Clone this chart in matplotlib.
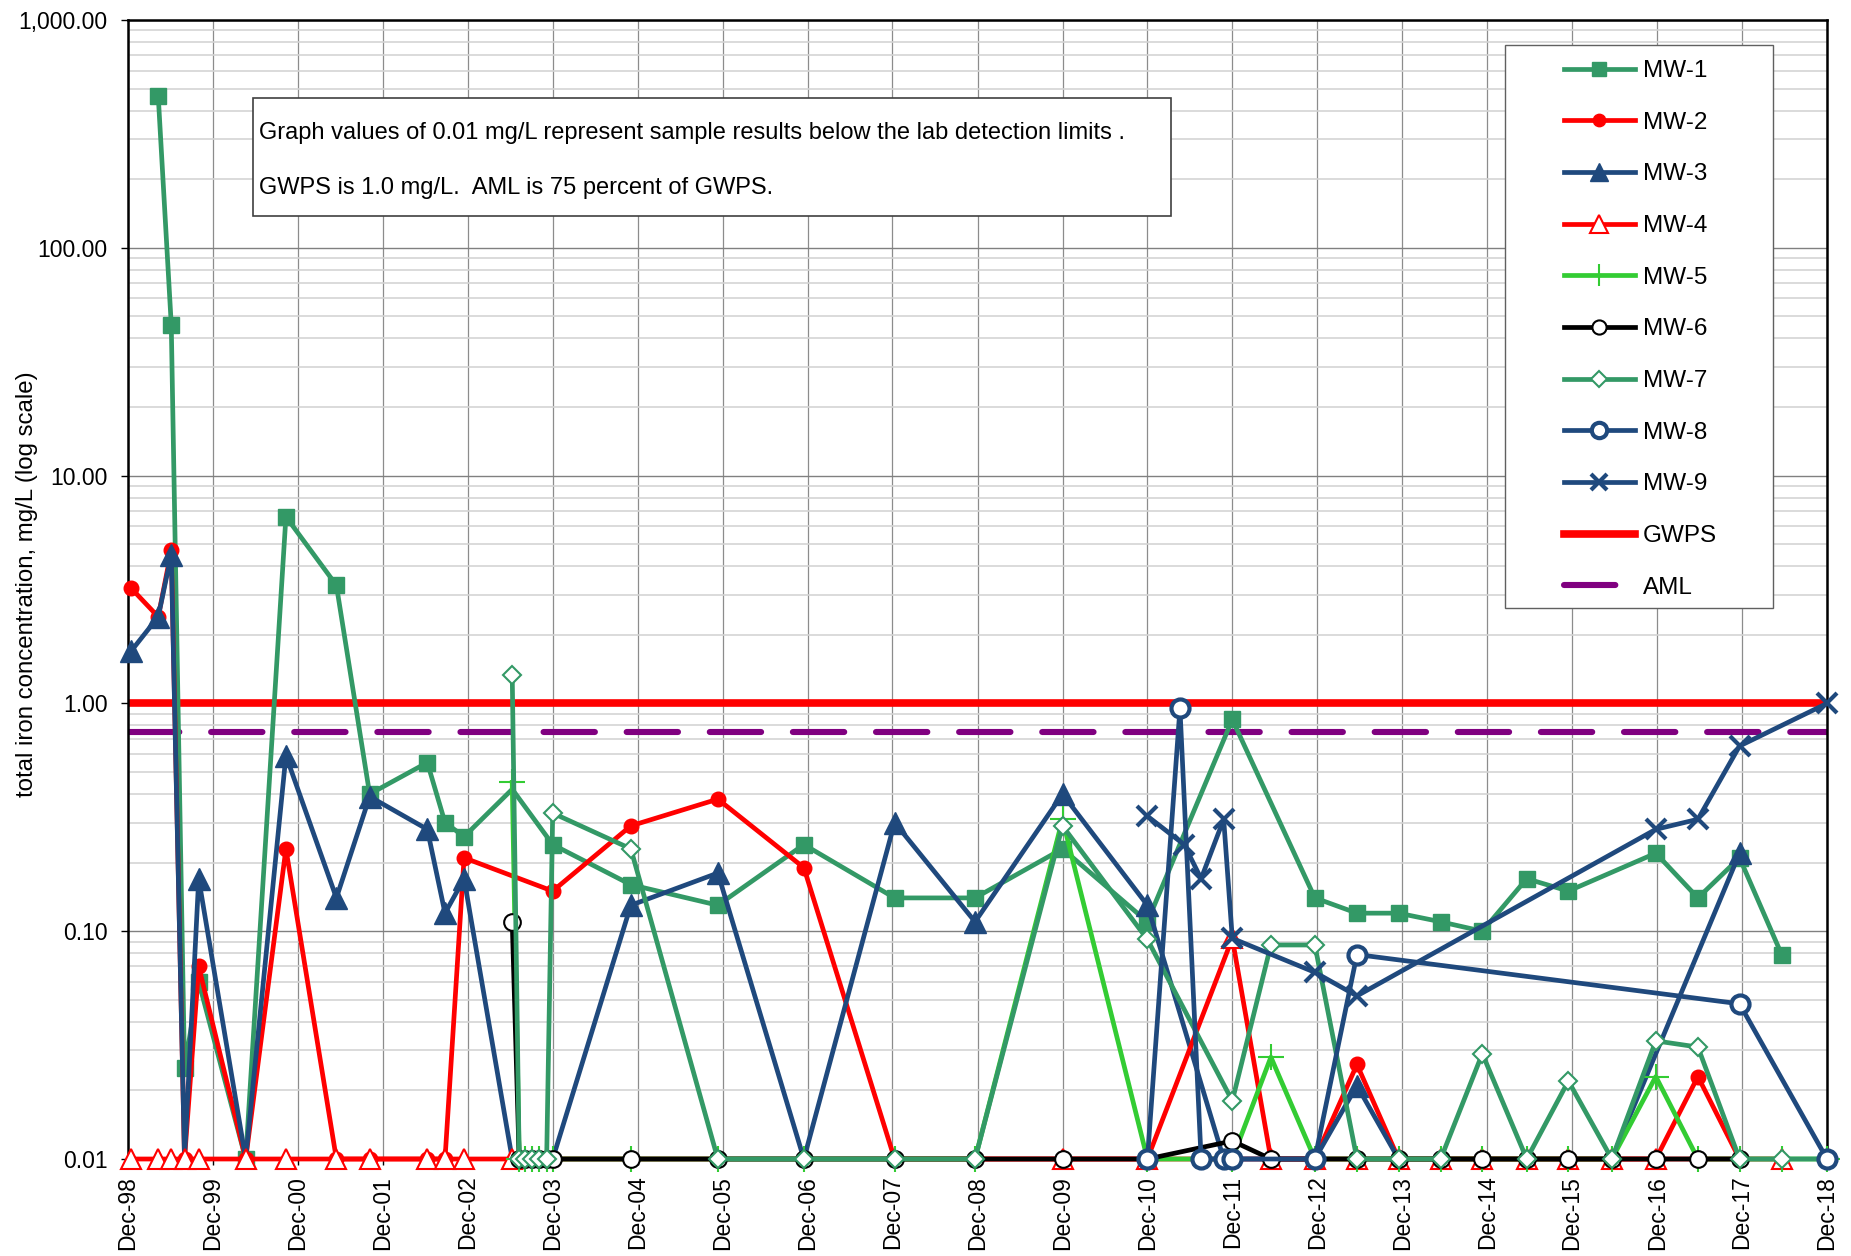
import matplotlib
matplotlib.use("Agg")
import matplotlib.pyplot as plt
import matplotlib.dates as mdates
import matplotlib.ticker as mticker
from matplotlib.patches import Rectangle
import pandas as pd

plt.rcParams['font.family'] = ['Liberation Sans', 'DejaVu Sans']
plt.rcParams['font.size'] = 16

W, H = 1851, 1256

## Data (mg/L)
mw1_dates = ['1999-04-10', '1999-06-05', '1999-08-01', '1999-10-01', '2000-04-20', '2000-10-10',
             '2001-05-15', '2001-10-05', '2002-06-10', '2002-08-25', '2002-11-15', '2003-06-10',
             '2003-12-01', '2004-11-01', '2005-11-10', '2006-11-15', '2007-12-10', '2008-11-20',
             '2009-12-01', '2010-12-01', '2011-12-01', '2012-11-20', '2013-05-20', '2013-11-15',
             '2014-05-15', '2014-11-10', '2015-05-20', '2015-11-15', '2016-11-25', '2017-05-25',
             '2017-11-20', '2018-05-20']
mw1_vals = [464, 46, 0.025, 0.06, 0.01, 6.6, 3.3, 0.40, 0.55, 0.30, 0.26, 0.42,
            0.24, 0.16, 0.13, 0.24, 0.14, 0.14, 0.23, 0.11, 0.85, 0.14, 0.12, 0.12,
            0.11, 0.10, 0.17, 0.15, 0.22, 0.14, 0.21, 0.079]

mw2_dates = ['1998-12-15', '1999-04-10', '1999-06-05', '1999-08-01', '1999-10-01', '2000-04-20',
             '2000-10-10', '2001-05-15', '2001-10-05', '2002-06-10', '2002-08-25', '2002-11-15',
             '2003-12-01', '2004-11-01', '2005-11-10', '2006-11-15', '2007-12-10', '2008-11-20',
             '2009-12-01', '2010-12-01', '2012-05-15', '2012-11-20', '2013-05-20', '2013-11-15',
             '2014-05-15', '2014-11-10', '2015-05-20', '2015-11-15', '2016-05-20', '2016-11-25',
             '2017-05-25', '2017-11-20']
mw2_vals = [3.2, 2.4, 4.7, 0.01, 0.07, 0.01, 0.23, 0.01, 0.01, 0.01, 0.01, 0.21,
            0.15, 0.29, 0.38, 0.19, 0.01, 0.01, 0.01, 0.01, 0.01, 0.01, 0.026, 0.01,
            0.01, 0.01, 0.01, 0.01, 0.01, 0.01, 0.023, 0.01]

mw3_dates = ['1998-12-15', '1999-04-10', '1999-06-05', '1999-08-01', '1999-10-01', '2000-04-20',
             '2000-10-10', '2001-05-15', '2001-10-05', '2002-06-10', '2002-08-25', '2002-11-15',
             '2003-06-10', '2003-12-01', '2004-11-01', '2005-11-10', '2006-11-15', '2007-12-10',
             '2008-11-20', '2009-12-01', '2010-12-01', '2011-10-25', '2012-11-20', '2013-05-20',
             '2013-11-15', '2014-05-15', '2014-11-10', '2015-05-20', '2015-11-15', '2016-05-20',
             '2017-11-20']
mw3_vals = [1.7, 2.4, 4.5, 0.01, 0.17, 0.01, 0.59, 0.14, 0.39, 0.28, 0.12, 0.17,
            0.01, 0.01, 0.13, 0.18, 0.01, 0.30, 0.11, 0.40, 0.13, 0.01, 0.01, 0.021,
            0.01, 0.01, 0.01, 0.01, 0.01, 0.01, 0.22]

mw4_dates = ['1998-12-15', '1999-04-10', '1999-06-05', '1999-08-01', '1999-10-01', '2000-04-20',
             '2000-10-10', '2001-05-15', '2001-10-05', '2002-06-10', '2002-08-25', '2002-11-15',
             '2003-06-10', '2009-12-01', '2010-12-01', '2011-12-01', '2012-05-15', '2012-11-20',
             '2013-05-20', '2013-11-15', '2014-05-15', '2014-11-10', '2015-05-20', '2015-11-15',
             '2016-05-20', '2016-11-25', '2018-05-20']
mw4_vals = [0.01, 0.01, 0.01, 0.01, 0.01, 0.01, 0.01, 0.01, 0.01, 0.01, 0.01, 0.01,
            0.01, 0.01, 0.01, 0.093, 0.01, 0.01, 0.01, 0.01, 0.01, 0.01, 0.01, 0.01,
            0.01, 0.01, 0.01]

mw5_dates = ['2003-06-10', '2003-07-10', '2003-08-05', '2003-09-05', '2003-10-01', '2003-11-05',
             '2003-12-01', '2004-11-01', '2005-11-10', '2006-11-15', '2007-12-10', '2008-11-20',
             '2009-12-01', '2010-12-01', '2011-12-01', '2012-05-15', '2012-11-20', '2013-05-20',
             '2013-11-15', '2014-05-15', '2014-11-10', '2015-05-20', '2015-11-15', '2016-05-20',
             '2016-11-25', '2017-05-25', '2017-11-20', '2018-05-20', '2018-12-01']
mw5_vals = [0.45, 0.01, 0.01, 0.01, 0.01, 0.01, 0.01, 0.01, 0.01, 0.01, 0.01, 0.01,
            0.31, 0.01, 0.01, 0.028, 0.01, 0.01, 0.01, 0.01, 0.01, 0.01, 0.01, 0.01,
            0.023, 0.01, 0.01, 0.01, 0.01]

mw6_dates = ['2003-06-10', '2003-07-10', '2003-08-05', '2003-09-05', '2003-10-01', '2003-11-05',
             '2003-12-01', '2004-11-01', '2005-11-10', '2006-11-15', '2007-12-10', '2008-11-20',
             '2009-12-01', '2010-12-01', '2011-12-01', '2012-05-15', '2012-11-20', '2013-05-20',
             '2013-11-15', '2014-05-15', '2014-11-10', '2015-05-20', '2015-11-15', '2016-05-20',
             '2016-11-25', '2017-05-25', '2017-11-20']
mw6_vals = [0.11, 0.01, 0.01, 0.01, 0.01, 0.01, 0.01, 0.01, 0.01, 0.01, 0.01, 0.01,
            0.01, 0.01, 0.012, 0.01, 0.01, 0.01, 0.01, 0.01, 0.01, 0.01, 0.01, 0.01,
            0.01, 0.01, 0.01]

mw7_dates = ['2003-06-10', '2003-07-10', '2003-08-05', '2003-09-05', '2003-10-01', '2003-11-05',
             '2003-12-01', '2004-11-01', '2005-11-10', '2006-11-15', '2007-12-10', '2008-11-20',
             '2009-12-01', '2010-12-01', '2011-12-01', '2012-05-15', '2012-11-20', '2013-05-20',
             '2013-11-15', '2014-05-15', '2014-11-10', '2015-05-20', '2015-11-15', '2016-05-20',
             '2016-11-25', '2017-05-25', '2017-11-20', '2018-05-20', '2018-12-01']
mw7_vals = [1.33, 0.01, 0.01, 0.01, 0.01, 0.01, 0.33, 0.23, 0.01, 0.01, 0.01, 0.01,
            0.29, 0.092, 0.018, 0.087, 0.087, 0.01, 0.01, 0.01, 0.029, 0.01, 0.022, 0.01,
            0.033, 0.031, 0.01, 0.01, 0.01]

mw8_dates = ['2010-12-01', '2011-04-20', '2011-07-20', '2011-10-25', '2011-12-01', '2012-11-20',
             '2013-05-20', '2017-11-20', '2018-12-01']
mw8_vals = [0.01, 0.95, 0.01, 0.01, 0.01, 0.01, 0.079, 0.048, 0.01]

mw9_dates = ['2010-12-01', '2011-05-08', '2011-07-20', '2011-10-25', '2011-12-01', '2012-11-20',
             '2013-05-20', '2016-11-25', '2017-05-25', '2017-11-20', '2018-12-01']
mw9_vals = [0.32, 0.24, 0.17, 0.31, 0.093, 0.066, 0.052, 0.28, 0.31, 0.65, 1.0]

GWPS = 1.0
AML = 0.75

note_lines = ["Graph values of 0.01 mg/L represent sample results below the lab detection limits .",
              "GWPS is 1.0 mg/L.  AML is 75 percent of GWPS."]

GREEN = '#339966'
RED = '#FF0000'
BLUE = '#1F497D'
LGREEN = '#33CC33'
PURPLE = '#800080'

series = [
    ('MW-1', mw1_dates, mw1_vals, dict(color=GREEN, marker='s', ms=12, mfc=GREEN, mec=GREEN, mew=1)),
    ('MW-2', mw2_dates, mw2_vals, dict(color=RED, marker='o', ms=10.5, mfc=RED, mec=RED, mew=1)),
    ('MW-3', mw3_dates, mw3_vals, dict(color=BLUE, marker='^', ms=16, mfc=BLUE, mec=BLUE, mew=1)),
    ('MW-4', mw4_dates, mw4_vals, dict(color=RED, marker='^', ms=15, mfc='white', mec=RED, mew=1.5)),
    ('MW-5', mw5_dates, mw5_vals, dict(color=LGREEN, marker='+', ms=19, mec=LGREEN, mew=1.5)),
    ('MW-6', mw6_dates, mw6_vals, dict(color='black', marker='o', ms=12, mfc='white', mec='black', mew=1.5)),
    ('MW-7', mw7_dates, mw7_vals, dict(color=GREEN, marker='D', ms=9.5, mfc='white', mec=GREEN, mew=1.5)),
    ('MW-8', mw8_dates, mw8_vals, dict(color=BLUE, marker='o', ms=13, mfc='white', mec=BLUE, mew=3)),
    ('MW-9', mw9_dates, mw9_vals, dict(color=BLUE, marker='x', ms=14, mec=BLUE, mew=3)),
]

fig = plt.figure(figsize=(W / 100, H / 100), dpi=100)
ax = fig.add_axes([128 / W, 1 - 1159 / H, (1827 - 128) / W, (1159 - 20) / H])

# reference lines (drawn under the wells)
gw = ax.axhline(GWPS, color=RED, lw=5.5, zorder=2, label='GWPS')
am = ax.axhline(AML, color=PURPLE, lw=4.4, zorder=2, label='AML',
                dashes=(8.4, 5.2), dash_capstyle='round')

handles = []
for i, (name, d, v, st) in enumerate(series):
    x = pd.to_datetime(d)
    mk = [True] * len(v)
    if name == 'MW-1':
        mk[d.index('2003-06-10')] = False
    if name == 'MW-3':
        mk = [val > 0.01 for val in v]
    ln, = ax.plot(x, v, lw=3.4, label=name, markevery=mk, zorder=3 + i * 0.1,
                  clip_on=False, solid_joinstyle='round', **st)
    handles.append(ln)

ax.set_yscale('log')
ax.set_ylim(0.01, 1000)
ax.set_xlim(pd.Timestamp('1998-12-01'), pd.Timestamp('2018-12-01'))

ax.yaxis.set_major_locator(mticker.LogLocator(base=10))
ax.yaxis.set_minor_locator(mticker.LogLocator(base=10, subs=range(2, 10)))
ax.yaxis.set_major_formatter(mticker.FuncFormatter(lambda v, p: '{:,.2f}'.format(v)))
ax.yaxis.set_minor_formatter(mticker.NullFormatter())

ax.xaxis.set_major_locator(mdates.YearLocator(base=1, month=12, day=1))
ax.xaxis.set_major_formatter(mdates.DateFormatter('%b-%y'))

ax.grid(which='major', axis='y', color='#808080', lw=1.0, zorder=0)
ax.grid(which='minor', axis='y', color='#D4D4D4', lw=1.2, zorder=0)
ax.grid(which='major', axis='x', color='#8C8C8C', lw=0.9, zorder=0)
ax.set_axisbelow(True)

ax.tick_params(axis='y', which='major', length=5, width=1, pad=9.5, labelsize=16.5)
ax.tick_params(axis='y', which='minor', length=0)
ax.tick_params(axis='x', which='major', length=4, width=1, pad=8, labelsize=16.5, labelrotation=90)

for s in ax.spines.values():
    s.set_color('black')
    s.set_linewidth(1.8)

ax.set_ylabel('total iron concentration, mg/L (log scale)', fontsize=17.3)
ax.yaxis.set_label_coords(-0.053, 0.505)

# note box
fig.patches.append(Rectangle((253 / W, 1 - 216 / H), (1171 - 253) / W, (216 - 98) / H,
                             transform=fig.transFigure, facecolor='white',
                             edgecolor='#404040', lw=1.2, zorder=1))
fig.text(259 / W, 1 - 133 / H, note_lines[0], fontsize=17, va='center', ha='left', zorder=3)
fig.text(259 / W, 1 - 188 / H, note_lines[1], fontsize=17, va='center', ha='left', zorder=3)

# legend box
fig.patches.append(Rectangle((1505 / W, 1 - 608 / H), (1773 - 1505) / W, (608 - 45) / H,
                             transform=fig.transFigure, facecolor='white',
                             edgecolor='#606060', lw=1.0, zorder=1))
leg = fig.legend(handles + [gw, am], [h.get_label() for h in handles] + ['GWPS', 'AML'],
                 loc='upper left', bbox_to_anchor=(1564 / W, 1 - 60 / H),
                 frameon=False, fontsize=17.5, handlelength=2.92, handletextpad=0.33,
                 labelspacing=1.22, borderpad=0, borderaxespad=0, markerscale=0.85)
leg.set_zorder(5)

fig.savefig('out.png', dpi=100)
